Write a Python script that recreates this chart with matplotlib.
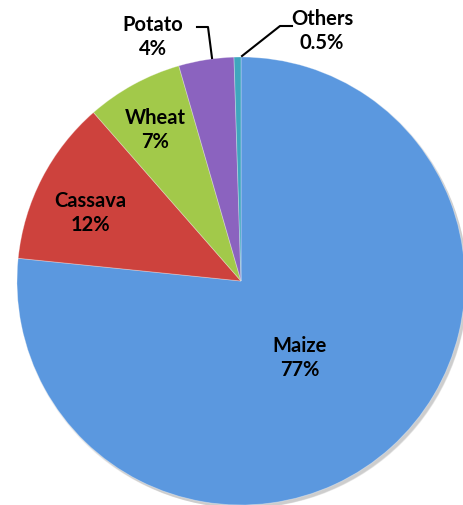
import matplotlib.pyplot as plt
from matplotlib.patches import Circle

crops = ['Maize', 'Cassava', 'Wheat', 'Potato', 'Others']
shares = [77, 12, 7, 4, 0.5]
pct_text = ['77%', '12%', '7%', '4%', '0.5%']
colors = ['#5B98DF', '#CD423D', '#A2C94A', '#8B63BF', '#3FA6BE']

plt.rcParams['font.family'] = ['Lato', 'DejaVu Sans']

fig = plt.figure(figsize=(4.63, 5.06), dpi=100)
ax = fig.add_axes([0, 0, 1, 1])

cx, cy, r = 241, 224, 224

# soft shadow under the pie
for i in range(4):
    ax.add_patch(Circle((cx + 1.5 + i * 0.6, cy - 2 - i * 0.6), r + 1 - i * 0.5,
                        color='black', alpha=0.05, lw=0, zorder=0))

wedges, _ = ax.pie(shares, colors=colors, startangle=90, counterclock=False,
                   center=(cx, cy), radius=r, frame=True,
                   wedgeprops=dict(linewidth=0.6))
for w in wedges:
    w.set_edgecolor((1, 1, 1, 0.35))
ax.set_xlim(0, 463)
ax.set_ylim(0, 506)
ax.axis('off')

fs = 14.5
lab = dict(ha='center', va='center', fontsize=fs, fontweight='bold',
           linespacing=1.2, zorder=5)

# labels inside the slices
inside = {0: (300, 148), 1: (90, 293), 2: (155, 376)}
for i, (x, y) in inside.items():
    ax.text(x, y, crops[i] + '\n' + pct_text[i], **lab)

# labels outside with leader lines
ax.text(153, 469, crops[3] + '\n' + pct_text[3], **lab)
ax.plot([197, 208, 212], [478, 478, 447], color='black', lw=1.5, zorder=5)

ax.text(322, 475, crops[4] + '\n' + pct_text[4], **lab)
ax.plot([242, 280, 292], [449, 479, 479], color='black', lw=1.5, zorder=5)

fig.savefig('out.png', dpi=100)
